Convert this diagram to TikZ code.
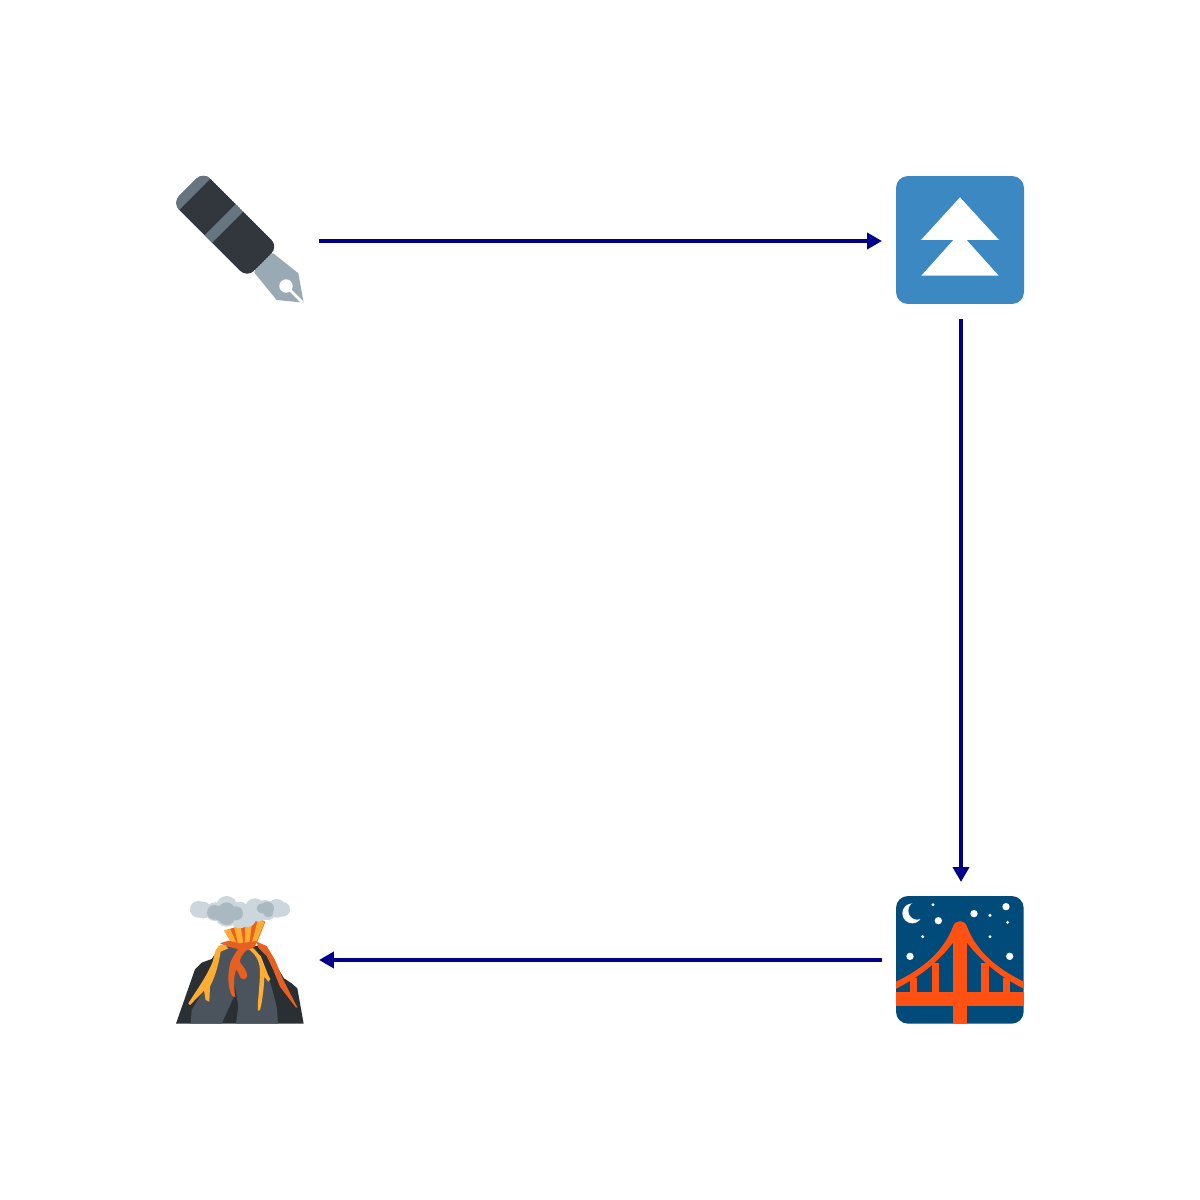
\documentclass[tikz,border=0pt]{standalone}
\usetikzlibrary{arrows.meta}
\definecolor{flow}{HTML}{00008B}
\definecolor{penDark}{HTML}{31373D}
\definecolor{penMid}{HTML}{66757F}
\definecolor{penNib}{HTML}{99AAB5}
\definecolor{sq}{HTML}{3B88C3}
\definecolor{night}{HTML}{004B79}
\definecolor{span}{HTML}{FF5112}
\definecolor{rock}{HTML}{292F33}
\definecolor{rockFront}{HTML}{4B545D}
\definecolor{lavaO}{HTML}{E8601F}
\definecolor{lavaY}{HTML}{FFAC33}
\definecolor{smoke}{HTML}{CCD6DD}
\definecolor{smokeD}{HTML}{AAB8C2}
\tikzset{
  iconslot/.style={minimum width=3.16cm,minimum height=3.12cm,inner sep=0pt,outer sep=0pt},
  link/.style={draw=flow,line width=0.08cm,-{Triangle[length=0.3cm,width=0.32cm,fill=flow]}},
  zoomed/.style={x=0.02cm/3,y=-0.02cm/3}
}
\begin{document}
\begin{tikzpicture}[x=0.02cm,y=-0.02cm]
\useasboundingbox (0,0) rectangle (1200,1200);
\fill[white] (0,0) rectangle (1200,1200);

% fountain pen
\begin{scope}[shift={(160,160)},zoomed]
  \fill[penNib] (300,290) -- (340,280) -- (415,340) -- (431,428) -- (350,420) -- (283,338) -- cycle;
  \fill[white] (378,378) circle (20);
  \draw[white,line width=0.05cm] (378,378) -- (428,428);
  \begin{scope}
    \clip[rounded corners=0.2cm] (130,35) -- (355,260) -- (261.5,353.5) -- (36.5,128.5) -- cycle;
    \fill[penDark] (130,35) -- (355,260) -- (261.5,353.5) -- (36.5,128.5) -- cycle;
    \fill[penMid] (130,35) -- (36.5,128.5) -- (57.5,149.5) -- (151,56) -- cycle;
    \fill[penMid] (227.5,132.5) -- (134,226) -- (156.5,248.5) -- (250,155) -- cycle;
  \end{scope}
\end{scope}

% white triangles on blue square
\begin{scope}[shift={(860,170)},zoomed]
  \fill[sq,rounded corners=0.24cm] (108,18) rectangle (492,402);
  \fill[white] (300,82) -- (417,210) -- (183,210) -- cycle;
  \fill[white] (300,188) -- (416,317) -- (184,317) -- cycle;
\end{scope}

% night bridge
\begin{scope}[shift={(880,880)},zoomed]
  \fill[night,rounded corners=0.24cm] (48,48) rectangle (431,431);
  \fill[white] (97,100) circle (30);
  \fill[night] (112,92) circle (27);
  \foreach \sx/\sy/\sr in {159/74/5,175/122/11,282/101/11,330/106/5,378/80/11,383/127/5,128/170/5,330/170/5,90/229/11,389/229/11}
    \fill[white] (\sx,\sy) circle (\sr);
  \fill[span] (48,305) .. controls (130,265) and (190,215) .. (219,140)
     .. controls (225,118) and (255,118) .. (261,140)
     .. controls (290,215) and (350,265) .. (431,305)
     -- (431,326) .. controls (360,290) and (305,245) .. (261,188)
     -- (219,188) .. controls (175,245) and (120,290) .. (48,326) -- cycle;
  \fill[span] (48,336) rectangle (431,378);
  \fill[span] (219,140) rectangle (261,431);
  \foreach \hx/\hy in {90/295,155/250,304/250,368/295}
    \fill[span] (\hx,\hy) rectangle (\hx+22,340);
\end{scope}

% volcano
\begin{scope}[shift={(160,880)},zoomed]
  \fill[rock] (48,431) -- (85,325) -- (105,268) -- (125,248) -- (155,237) -- (180,200) -- (300,197) -- (330,225) -- (372,295) -- (395,310) -- (412,325) -- (431,431) -- cycle;
  \fill[rockFront] (92,431) -- (95,390) -- (125,340) -- (150,295) -- (170,220) -- (190,200) -- (240,200) -- (230,250) -- (225,300) -- (222,350) -- (185,431) -- cycle;
  \fill[rockFront] (228,431) -- (235,380) -- (222,300) -- (232,240) -- (255,210) -- (285,205) -- (320,270) -- (340,340) -- (350,380) -- (354,431) -- cycle;
  % eruption fan
  \fill[lavaO] (193,152) -- (300,118) -- (316,125) -- (290,190) -- (215,190) -- cycle;
  \fill[lavaY] (193,152) -- (210,146) -- (230,190) -- (215,190) -- cycle;
  \fill[lavaY] (222,140) -- (242,138) -- (250,190) -- (234,190) -- cycle;
  \fill[lavaY] (256,135) -- (276,130) -- (268,190) -- (254,190) -- cycle;
  \fill[lavaY] (293,122) -- (314,125) -- (289,187) -- (276,187) -- cycle;
  % smoke
  \foreach \cx/\cy/\cr in {115/88/25,130/90/25,165/95/28,200/80/32,240/90/25,240/118/27,285/85/30,315/90/30,350/85/28,368/88/22,200/105/35,262/115/26,295/105/20,325/100/20}
    \fill[smoke] (\cx,\cy) circle (\cr);
  \foreach \cx/\cy/\cr in {163/97/22,200/93/26,200/108/27,228/100/21,180/100/22,322/85/20,305/85/15,325/97/15}
    \fill[smokeD] (\cx,\cy) circle (\cr);
  % lava flows
  \fill[lavaO] (290,185) -- (320,198) -- (345,240) -- (370,300) -- (412,382) -- (408,383) -- (360,320) -- (340,270) -- (320,228) -- (295,203) -- cycle;
  \fill[lavaY] (190,193) .. controls (165,195) and (165,220) .. (158,245)
     .. controls (140,290) and (110,330) .. (85,370) -- (90,375)
     .. controls (105,360) and (120,345) .. (132,332) -- (137,360) -- (148,365) -- (150,320)
     .. controls (170,280) and (178,240) .. (182,215) -- (205,205) -- cycle;
  \fill[lavaY] (262,205) .. controls (285,220) and (298,240) .. (300,270)
     .. controls (300,320) and (292,360) .. (294,392) -- (300,390)
     .. controls (308,360) and (312,320) .. (313,290) -- (325,305) -- (331,297)
     .. controls (320,280) and (312,250) .. (302,228) -- (275,200) -- cycle;
  \fill[lavaO] (180,190) -- (205,182) -- (240,190) -- (290,183) -- (285,200) -- (258,212)
     .. controls (245,225) and (240,235) .. (240,247)
     .. controls (250,260) and (262,275) .. (262,288)
     .. controls (258,302) and (240,300) .. (238,285) -- (230,268)
     .. controls (218,290) and (222,325) .. (226,352)
     -- (216,347) .. controls (205,325) and (200,290) .. (212,245)
     .. controls (220,228) and (228,215) .. (235,208) -- (200,198) -- cycle;
\end{scope}

% connector anchors
\node[iconslot] (pen) at (240,241) {};
\node[iconslot] (square) at (961,241) {};
\node[iconslot] (bridge) at (961,960) {};
\node[iconslot] (volcano) at (240,960) {};

\draw[link] (pen) -- (square);
\draw[link] (square) -- (bridge);
\draw[link] (bridge) -- (volcano);
\end{tikzpicture}
\end{document}
